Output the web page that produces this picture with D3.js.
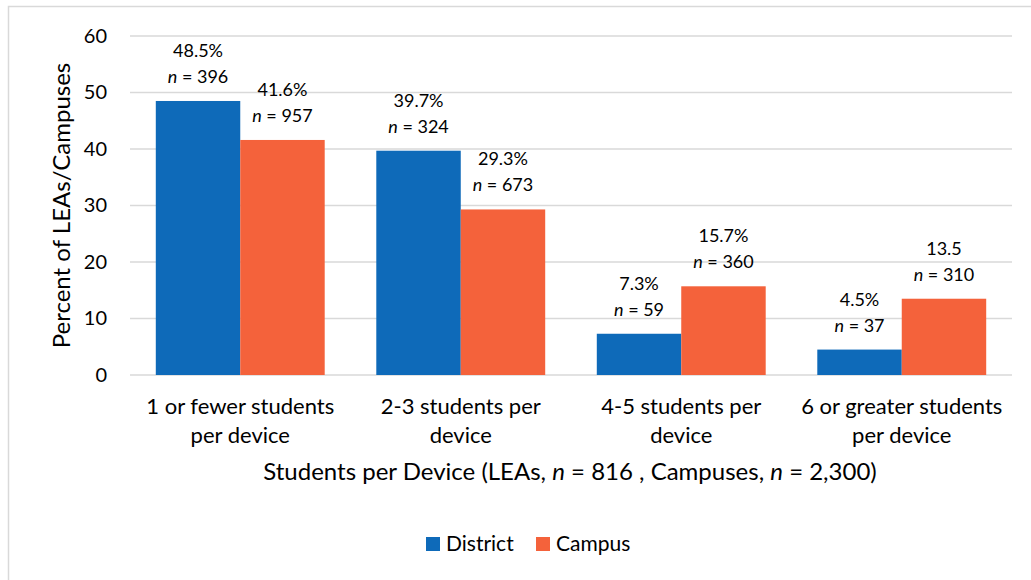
<!DOCTYPE html>
<html>
<head>
<meta charset="utf-8">
<script src="https://cdn.jsdelivr.net/npm/d3@7"></script>
<style>
  body { margin: 0; background: #fff; }
  svg { display: block; font-family: Lato, "Open Sans", sans-serif; }
</style>
</head>
<body>
<div id="chart"></div>
<script>
// categories and series
const categories = [
  ["1 or fewer students", "per device"],
  ["2-3 students per", "device"],
  ["4-5 students per", "device"],
  ["6 or greater students", "per device"]
];
const seriesNames = ["District", "Campus"];
const districtValues = [48.5, 39.7, 7.3, 4.5];
const campusValues = [41.6, 29.3, 15.7, 13.5];
const districtLabels = ["48.5%", "39.7%", "7.3%", "4.5%"];
const campusLabels = ["41.6%", "29.3%", "15.7%", "13.5"];
const districtN = ["396", "324", "59", "37"];
const campusN = ["957", "673", "360", "310"];
const yTicks = [0, 10, 20, 30, 40, 50, 60];
const colors = ["#0E6AB9", "#F4623B"];

const W = 1031, H = 580;
const margin = {top: 36, right: 19, bottom: 205, left: 130};
const width = W - margin.left - margin.right,
      height = H - margin.top - margin.bottom;

const svg = d3.select("#chart").append("svg")
    .attr("width", W)
    .attr("height", H);

// chart frame
svg.append("rect")
    .attr("x", 8.5).attr("y", 6.5)
    .attr("width", W + 20).attr("height", H + 20)
    .attr("fill", "#fff")
    .attr("stroke", "#d9d9d9")
    .attr("stroke-width", 1.5);

const g = svg.append("g")
    .attr("transform", `translate(${margin.left},${margin.top})`);

const x0 = d3.scaleBand()
    .domain(d3.range(categories.length))
    .range([0, width])
    .paddingInner(0.234)
    .paddingOuter(0.117);

const x1 = d3.scaleBand()
    .domain(seriesNames)
    .range([0, x0.bandwidth()]);

const y = d3.scaleLinear()
    .domain([0, 60])
    .range([height, 0]);

// gridlines
g.append("g")
  .selectAll("line")
  .data(yTicks)
  .join("line")
    .attr("x1", 0).attr("x2", width)
    .attr("y1", d => y(d)).attr("y2", d => y(d))
    .attr("stroke", "#d9d9d9")
    .attr("stroke-width", 1.5);

// y tick labels
const yAxis = d3.axisLeft(y).tickValues(yTicks).tickSize(0).tickPadding(23);
g.append("g")
    .call(yAxis)
    .call(s => s.select(".domain").remove())
    .call(s => s.selectAll("text")
        .attr("font-family", "Lato, 'Open Sans', sans-serif")
        .attr("font-size", 20)
        .attr("fill", "#000"));

// bars
const rows = categories.map((c, i) => ({
  i,
  values: [
    {key: "District", v: districtValues[i], pct: districtLabels[i], n: districtN[i]},
    {key: "Campus", v: campusValues[i], pct: campusLabels[i], n: campusN[i]}
  ]
}));

const groups = g.append("g")
  .selectAll("g")
  .data(rows)
  .join("g")
    .attr("transform", d => `translate(${x0(d.i)},0)`);

groups.selectAll("rect")
  .data(d => d.values)
  .join("rect")
    .attr("x", d => x1(d.key))
    .attr("y", d => y(d.v))
    .attr("width", x1.bandwidth())
    .attr("height", d => y(0) - y(d.v))
    .attr("fill", (d, j) => colors[j]);

// data labels (two lines above each bar)
const lab = groups.selectAll("g.lab")
  .data(d => d.values)
  .join("g")
    .attr("class", "lab")
    .attr("transform", d => `translate(${x1(d.key) + x1.bandwidth() / 2},${y(d.v)})`)
    .attr("font-size", 18)
    .attr("text-anchor", "middle")
    .attr("fill", "#000");

lab.append("text")
    .attr("y", -44)
    .text(d => d.pct);

const nt = lab.append("text")
    .attr("y", -18);
nt.append("tspan").attr("font-style", "italic").text("n");
nt.append("tspan").text(d => " = " + d.n);

// category labels
const cat = g.append("g")
  .selectAll("text")
  .data(categories)
  .join("text")
    .attr("x", (d, i) => x0(i) + x0.bandwidth() / 2)
    .attr("y", height + 39)
    .attr("text-anchor", "middle")
    .attr("font-size", 22)
    .attr("fill", "#000");
cat.selectAll("tspan")
  .data(d => d)
  .join("tspan")
    .attr("x", function() { return d3.select(this.parentNode).attr("x"); })
    .attr("dy", (d, k) => k === 0 ? 0 : 29)
    .text(d => d);

// x axis title
const xt = g.append("text")
    .attr("x", width / 2 - 1)
    .attr("y", height + 105)
    .attr("text-anchor", "middle")
    .attr("font-size", 24)
    .attr("fill", "#000");
xt.append("tspan").text("Students per Device (LEAs, ");
xt.append("tspan").attr("font-style", "italic").text("n");
xt.append("tspan").text(" = 816 , Campuses, ");
xt.append("tspan").attr("font-style", "italic").text("n");
xt.append("tspan").text(" = 2,300)");

// y axis title
svg.append("text")
    .attr("transform", `translate(70,${margin.top + height / 2}) rotate(-90)`)
    .attr("text-anchor", "middle")
    .attr("font-size", 24)
    .attr("fill", "#000")
    .text("Percent of LEAs/Campuses");

// legend
const legend = svg.append("g")
    .attr("transform", "translate(426,544)");
const items = legend.selectAll("g")
  .data(seriesNames)
  .join("g")
    .attr("transform", (d, i) => `translate(${i * 110},0)`);
items.append("rect")
    .attr("x", 0).attr("y", -7)
    .attr("width", 14).attr("height", 14)
    .attr("fill", (d, i) => colors[i]);
items.append("text")
    .attr("x", 20)
    .attr("dy", "0.35em")
    .attr("font-size", 21)
    .attr("fill", "#000")
    .text(d => d);
</script>
</body>
</html>
